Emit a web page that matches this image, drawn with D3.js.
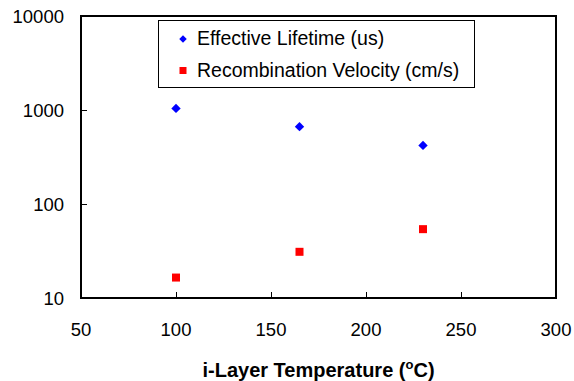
<!DOCTYPE html>
<html>
<head>
<meta charset="utf-8">
<script src="https://cdn.jsdelivr.net/npm/d3@7"></script>
<style>
body { margin: 0; background: #fff; }
text { font-family: "Liberation Sans", Arial, sans-serif; fill: #000; }
</style>
</head>
<body>
<div id="chart"></div>
<script>
// values
var temps = [100, 165, 230];
var lifetime = [1040, 665, 420];
var velocity = [16.5, 31, 54];
var xTicks = [50, 100, 150, 200, 250, 300];
var yTicks = [10, 100, 1000, 10000];
var seriesNames = ["Effective Lifetime (us)", "Recombination Velocity (cm/s)"];

var W = 574, H = 381;
var margin = {top: 16, right: 18, bottom: 83, left: 81};

var svg = d3.select("#chart").append("svg")
	.attr("width", W)
	.attr("height", H);

var x = d3.scaleLinear().domain([50, 300]).range([margin.left, W - margin.right]);
var y = d3.scaleLog().domain([10, 10000]).range([H - margin.bottom, margin.top]);

// ticks point inward
svg.append("g")
	.attr("transform", "translate(0," + (H - margin.bottom) + ")")
	.call(d3.axisTop(x).tickValues(xTicks).tickSize(6).tickFormat(""))
	.call(function(g) { g.select(".domain").remove(); });

svg.append("g")
	.attr("transform", "translate(" + margin.left + ",0)")
	.call(d3.axisRight(y).tickValues(yTicks).tickSize(6).tickFormat(""))
	.call(function(g) { g.select(".domain").remove(); });

svg.selectAll(".tick line").attr("stroke", "#000").attr("stroke-width", 1);

// frame
svg.append("rect")
	.attr("x", margin.left)
	.attr("y", margin.top)
	.attr("width", W - margin.left - margin.right)
	.attr("height", H - margin.top - margin.bottom)
	.attr("fill", "none")
	.attr("stroke", "#000")
	.attr("stroke-width", 2);

// tick labels
svg.selectAll(".xlab")
	.data(xTicks).enter()
	.append("text")
	.attr("x", function(d) { return x(d); })
	.attr("y", 336)
	.attr("text-anchor", "middle")
	.style("font-size", "18.5px")
	.text(function(d) { return d; });

svg.selectAll(".ylab")
	.data(yTicks).enter()
	.append("text")
	.attr("x", 64)
	.attr("y", function(d) { return y(d) + 7; })
	.attr("text-anchor", "end")
	.style("font-size", "18.5px")
	.text(function(d) { return d; });

// axis title
var title = svg.append("text")
	.attr("x", (margin.left + W - margin.right) / 2)
	.attr("y", 377)
	.attr("text-anchor", "middle")
	.style("font-size", "20px")
	.style("font-weight", "bold");
title.append("tspan").text("i-Layer Temperature (");
title.append("tspan").attr("dy", -8).style("font-size", "13px").text("o");
title.append("tspan").attr("dy", 8).text("C)");

// points
var diamond = d3.symbol().type(d3.symbolSquare).size(44);

svg.selectAll(".life")
	.data(temps).enter()
	.append("path")
	.attr("d", diamond)
	.attr("transform", function(d, i) { return "translate(" + x(d) + "," + y(lifetime[i]) + ") rotate(45)"; })
	.attr("fill", "#0000ff");

svg.selectAll(".vel")
	.data(temps).enter()
	.append("rect")
	.attr("x", function(d) { return x(d) - 4; })
	.attr("y", function(d, i) { return y(velocity[i]) - 4; })
	.attr("width", 8)
	.attr("height", 8)
	.attr("fill", "#ff0000");

// legend
var legend = svg.append("g");
legend.append("rect")
	.attr("x", 158.5)
	.attr("y", 20.5)
	.attr("width", 316)
	.attr("height", 67)
	.attr("fill", "#fff")
	.attr("stroke", "#000")
	.attr("stroke-width", 1);

legend.append("path")
	.attr("d", d3.symbol().type(d3.symbolSquare).size(28))
	.attr("transform", "translate(183,39) rotate(45)")
	.attr("fill", "#0000ff");
legend.append("rect")
	.attr("x", 179.5).attr("y", 67)
	.attr("width", 7).attr("height", 7)
	.attr("fill", "#ff0000");

legend.selectAll(".ltext")
	.data(seriesNames).enter()
	.append("text")
	.attr("x", 197)
	.attr("y", function(d, i) { return 45 + i * 32; })
	.style("font-size", "19.5px")
	.text(function(d) { return d; });
</script>
</body>
</html>
